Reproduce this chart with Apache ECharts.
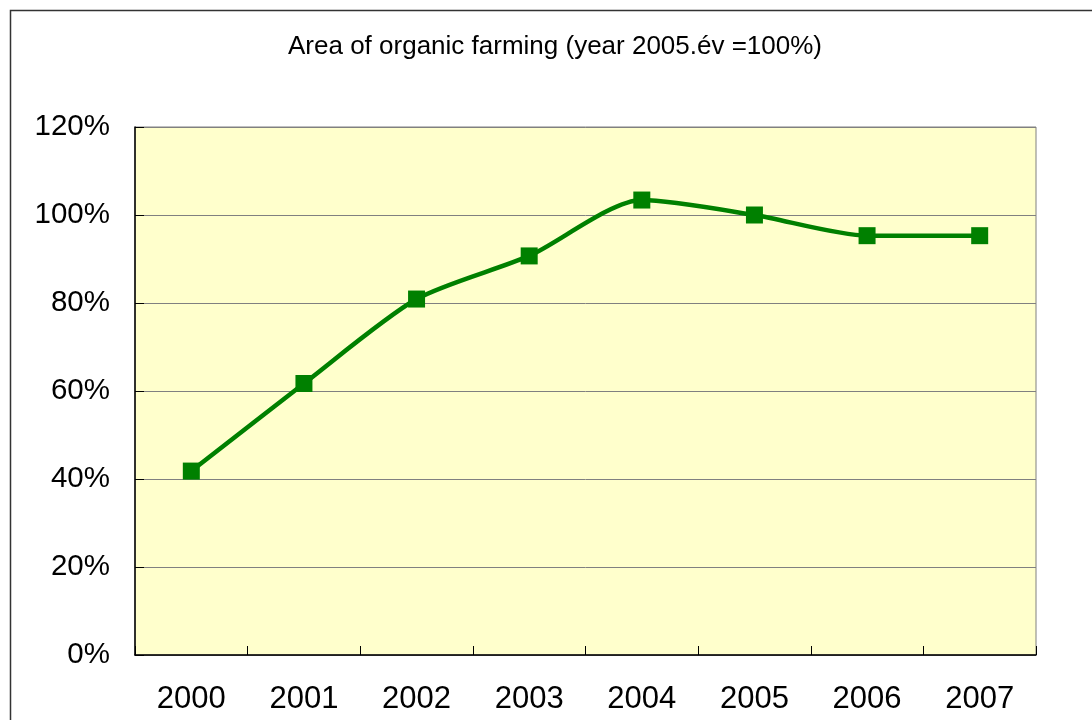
<!DOCTYPE html>
<html>
<head>
<meta charset="utf-8">
<title>Area of organic farming</title>
<script src="https://cdn.jsdelivr.net/npm/echarts@6/dist/echarts.min.js"></script>
<style>
  html, body { margin: 0; padding: 0; background: #fff; }
  #chart { width: 1092px; height: 720px; }
</style>
</head>
<body>
<div id="chart"></div>
<script>
const years = ['2000', '2001', '2002', '2003', '2004', '2005', '2006', '2007']
const areaIndex = [41.8, 61.7, 80.9, 90.7, 103.4, 100, 95.3, 95.3]
const titleText = 'Area of organic farming (year 2005.év =100%)'

const chart = echarts.init(document.getElementById('chart'))

chart.setOption({
  animation: false,
  textStyle: { fontFamily: '"Liberation Sans", Arial, sans-serif' },
  title: {
    text: titleText,
    left: 288,
    top: 34,
    padding: 0,
    textStyle: { fontSize: 26, fontWeight: 'normal', color: '#000' }
  },
  // outer frame of the chart, right and bottom edges fall off the page
  graphic: [{
    type: 'rect',
    left: 8,
    top: 8,
    shape: { width: 1200, height: 800 },
    style: { fill: 'none', stroke: '#333', lineWidth: 1.5 },
    silent: true
  }],
  grid: {
    left: 135,
    right: 56,
    top: 127,
    bottom: 65,
    show: true,
    backgroundColor: '#FFFFCC',
    borderColor: '#808080',
    borderWidth: 1
  },
  xAxis: {
    type: 'category',
    data: years,
    boundaryGap: true,
    axisLine: { lineStyle: { color: '#000', width: 1.5 } },
    axisTick: { show: true, inside: true, length: 9, lineStyle: { color: '#000', width: 1 } },
    axisLabel: { fontSize: 31, color: '#000', margin: 29 }
  },
  yAxis: {
    type: 'value',
    min: 0,
    max: 120,
    interval: 20,
    axisLine: { show: true, lineStyle: { color: '#000', width: 1.5 } },
    axisTick: { show: true, inside: true, length: 9, lineStyle: { color: '#000' } },
    axisLabel: { fontSize: 29.5, color: '#000', margin: 25, formatter: '{value}%' },
    splitLine: { lineStyle: { color: '#808080', width: 1 } }
  },
  series: [{
    type: 'line',
    data: areaIndex,
    smooth: 0.25,
    symbol: 'rect',
    symbolSize: 17,
    itemStyle: { color: '#008000' },
    lineStyle: { color: '#008000', width: 4.5 }
  }]
})
</script>
</body>
</html>
